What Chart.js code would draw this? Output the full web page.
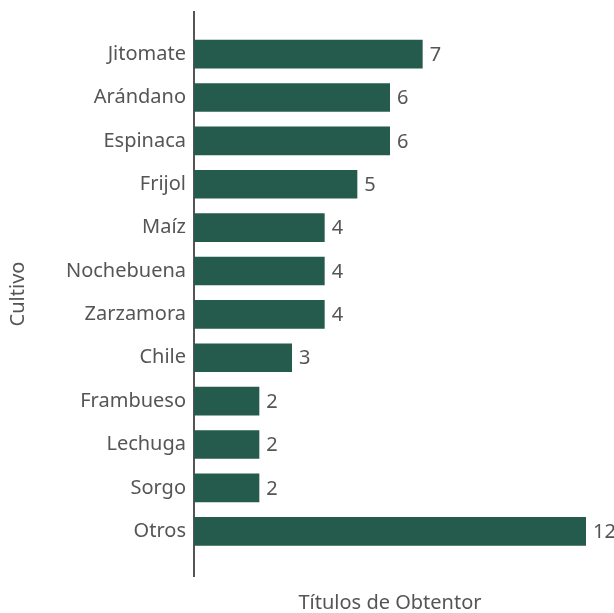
<!DOCTYPE html>
<html>
<head>
<meta charset="utf-8">
<script src="https://cdn.jsdelivr.net/npm/chart.js@4.4.1/dist/chart.umd.min.js"></script>
<style>
  html, body { margin: 0; padding: 0; background: #fff; }
  #wrap { width: 614px; height: 613px; }
</style>
</head>
<body>
<div id="wrap"><canvas id="cultivos-chart"></canvas></div>
<script>
const cultivos = ["Jitomate", "Arándano", "Espinaca", "Frijol", "Maíz", "Nochebuena", "Zarzamora", "Chile", "Frambueso", "Lechuga", "Sorgo", "Otros"];
const titulos = [7, 6, 6, 5, 4, 4, 4, 3, 2, 2, 2, 12];

const textColor = '#555555';
const fontFamily = "'Noto Sans', sans-serif";
const fontSize = 20;

// numbers at the end of each bar
const valueLabels = {
    id: 'valueLabels',
    afterDatasetsDraw(chart) {
        const ctx = chart.ctx;
        const meta = chart.getDatasetMeta(0);
        ctx.save();
        ctx.font = `${fontSize}px ${fontFamily}`;
        ctx.fillStyle = textColor;
        ctx.textAlign = 'left';
        ctx.textBaseline = 'middle';
        meta.data.forEach((bar, i) => {
            ctx.fillText(titulos[i], bar.x + 7, bar.y + 1);
        });
        ctx.restore();
    }
};

const ctx = document.getElementById("cultivos-chart").getContext('2d');

new Chart(ctx, {
    type: 'bar',
    data: {
        datasets: [{
            label: "Títulos de Obtentor",
            data: titulos.map((v, i) => ({ x: v, y: i })),
            backgroundColor: "#255b4c",
            barPercentage: 0.66,
            categoryPercentage: 1,
        }]
    },
    options: {
        indexAxis: 'y',
        responsive: true,
        maintainAspectRatio: false,
        animation: false,
        layout: {
            padding: { top: 12, right: 28, left: 6, bottom: 0 }
        },
        plugins: {
            legend: { display: false },
            tooltip: { enabled: false },
        },
        scales: {
            x: {
                type: 'linear',
                min: 0,
                max: 12,
                ticks: { display: false },
                grid: { display: false, drawTicks: false },
                border: { display: false },
                afterFit: (scale) => { scale.height = 37; },
                title: {
                    display: true,
                    text: 'Títulos de Obtentor',
                    color: textColor,
                    font: { size: fontSize, family: fontFamily, lineHeight: 1 },
                    padding: { top: 0, bottom: 0 },
                }
            },
            y: {
                type: 'linear',
                reverse: true,
                offset: false,
                min: -0.97,
                max: 12.03,
                afterBuildTicks: (scale) => {
                    scale.ticks = cultivos.map((c, i) => ({ value: i }));
                },
                afterFit: (scale) => {
                    scale.width = 188;
                    scale.paddingTop = 0;
                    scale.paddingBottom = 0;
                },
                ticks: {
                    autoSkip: false,
                    color: textColor,
                    padding: 8,
                    font: { size: fontSize, family: fontFamily },
                    callback: (v) => cultivos[v] ?? '',
                },
                grid: { display: false, drawTicks: false },
                border: { display: true, color: '#555555', width: 2 },
                title: {
                    display: true,
                    text: 'Cultivo',
                    color: textColor,
                    font: { size: fontSize, family: fontFamily },
                    padding: { top: 0, bottom: 0 },
                }
            }
        }
    },
    plugins: [valueLabels]
});
</script>
</body>
</html>
